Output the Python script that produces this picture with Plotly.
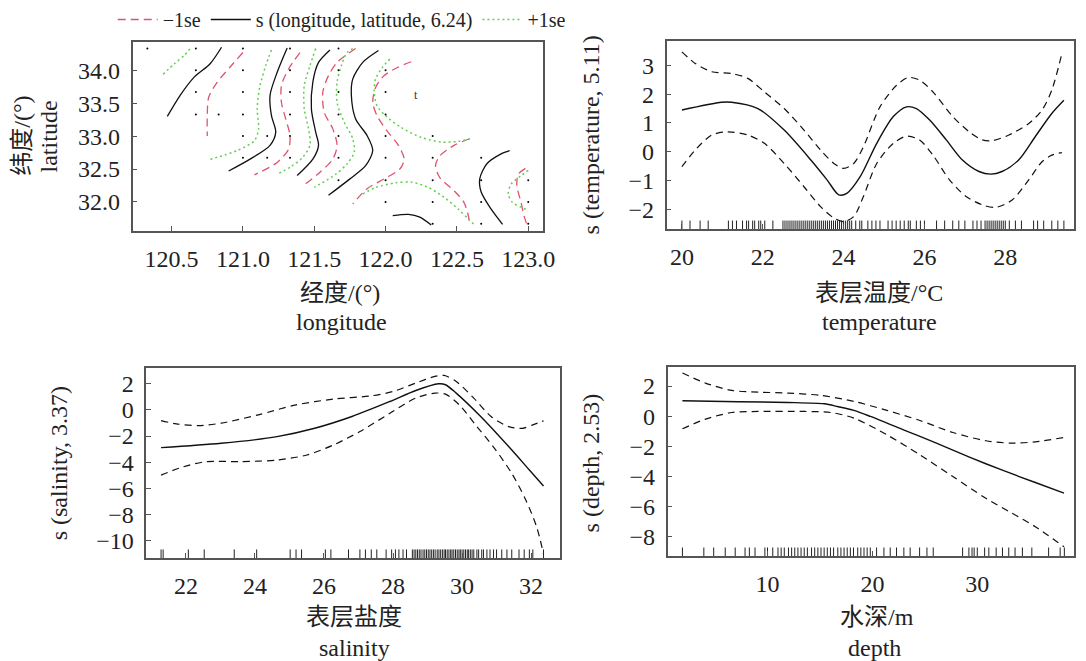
import plotly.graph_objects as go

# ---------------- DATA ----------------
# Panel 1: contour lines of s(longitude, latitude) -- (lon, lat) vertices
fit_contours = [
    [(120.47, 33.30), (120.56, 33.62), (120.66, 33.90), (120.77, 34.10), (120.85, 34.35)],
    [(121.31, 34.34), (121.24, 33.97), (121.19, 33.62), (121.20, 33.31), (121.23, 33.06), (121.19, 32.86), (121.05, 32.65), (120.90, 32.47)],
    [(121.61, 34.31), (121.53, 34.12), (121.49, 33.82), (121.48, 33.41), (121.51, 33.06), (121.53, 32.86), (121.49, 32.65), (121.38, 32.40)],
    [(121.95, 34.30), (121.84, 34.12), (121.77, 33.87), (121.76, 33.62), (121.79, 33.26), (121.87, 33.01), (121.91, 32.78), (121.86, 32.55), (121.75, 32.35), (121.60, 32.10)],
    [(122.05, 31.79), (122.16, 31.81), (122.24, 31.77), (122.32, 31.65)],
    [(122.87, 32.78), (122.81, 32.73), (122.71, 32.58), (122.66, 32.35), (122.67, 32.15), (122.74, 31.89), (122.82, 31.66)],
]
lower_contours = [
    [(121.00, 34.27), (120.91, 34.05), (120.82, 33.82), (120.76, 33.59), (120.75, 33.31), (120.75, 33.00)],
    [(121.40, 34.27), (121.32, 34.02), (121.27, 33.77), (121.27, 33.51), (121.30, 33.26), (121.33, 33.01), (121.32, 32.80), (121.24, 32.60), (121.08, 32.41)],
    [(121.79, 34.33), (121.66, 34.12), (121.60, 33.92), (121.56, 33.67), (121.57, 33.36), (121.63, 33.11), (121.66, 32.86), (121.63, 32.65), (121.54, 32.45), (121.43, 32.26)],
    [(122.18, 34.13), (122.09, 34.05), (121.99, 33.92), (121.93, 33.74), (121.91, 33.51), (121.94, 33.31), (122.01, 33.08), (122.09, 32.86), (122.13, 32.65), (122.10, 32.50), (121.99, 32.35), (121.87, 32.20), (121.77, 31.97)],
    [(122.59, 32.96), (122.48, 32.86), (122.38, 32.70), (122.35, 32.55), (122.38, 32.37), (122.48, 32.17), (122.55, 31.99), (122.58, 31.79), (122.59, 31.65)],
    [(122.98, 32.51), (122.93, 32.42), (122.92, 32.25), (122.95, 31.99), (122.97, 31.79), (122.99, 31.66)],
]
upper_contours = [
    [(120.44, 33.94), (120.52, 34.10), (120.59, 34.23), (120.63, 34.33)],
    [(121.20, 34.31), (121.16, 34.07), (121.12, 33.77), (121.10, 33.41), (121.11, 33.11), (121.08, 32.93), (120.96, 32.78), (120.76, 32.64)],
    [(121.51, 34.33), (121.47, 34.07), (121.43, 33.77), (121.43, 33.41), (121.46, 33.11), (121.47, 32.86), (121.42, 32.68), (121.34, 32.54), (121.24, 32.42)],
    [(121.77, 34.33), (121.73, 34.27), (121.69, 34.07), (121.66, 33.82), (121.66, 33.51), (121.71, 33.21), (121.77, 32.96), (121.78, 32.75), (121.73, 32.58), (121.65, 32.42), (121.50, 32.22)],
    [(122.03, 34.17), (121.98, 34.05), (121.93, 33.87), (121.92, 33.67), (121.94, 33.46), (122.01, 33.29), (122.11, 33.13), (122.25, 32.98), (122.39, 32.91), (122.51, 32.92), (122.59, 32.96)],
    [(121.84, 32.12), (121.93, 32.22), (122.07, 32.29), (122.18, 32.30), (122.30, 32.22), (122.41, 32.07), (122.51, 31.89), (122.58, 31.74), (122.62, 31.66)],
    [(123.00, 32.48), (122.95, 32.40), (122.88, 32.27), (122.86, 32.12), (122.89, 31.99), (122.95, 31.92), (123.00, 31.87)],
]
stations = [
    (120.33, 34.33), (120.67, 34.33), (121.0, 34.33), (121.33, 34.33), (121.67, 34.33),
    (120.67, 34.0), (121.0, 34.0), (121.33, 34.0), (121.67, 34.0), (122.0, 34.0),
    (120.67, 33.67), (121.0, 33.67), (121.33, 33.67), (121.67, 33.67), (122.0, 33.67),
    (120.67, 33.33), (120.83, 33.33), (121.0, 33.33), (121.33, 33.33), (121.67, 33.33), (122.0, 33.33),
    (121.0, 33.0), (121.17, 33.0), (121.33, 33.0), (121.67, 33.0), (122.0, 33.0), (122.33, 33.0),
    (121.0, 32.67), (121.17, 32.67), (121.33, 32.67), (121.67, 32.67), (122.0, 32.67), (122.33, 32.67), (122.67, 32.67),
    (121.67, 32.33), (122.0, 32.33), (122.33, 32.33), (122.67, 32.33), (123.0, 32.33),
    (122.0, 32.0), (122.33, 32.0), (122.67, 32.0), (123.0, 32.0),
    (122.33, 31.67), (122.67, 31.67), (123.0, 31.67),
]
lon_ticks = [120.5, 121.0, 121.5, 122.0, 122.5, 123.0]
lat_ticks = [32.0, 32.5, 33.0, 33.5, 34.0]

# Panel 2: temperature
temp_fit_x = [20.0, 20.98, 21.23, 21.88, 22.53, 23.19, 23.59, 23.88, 24.08, 24.41, 24.82, 25.23, 25.56, 25.80, 26.13, 26.54, 26.94, 27.35, 27.64, 27.92, 28.33, 28.74, 29.15, 29.45]
temp_fit_y = [1.45, 1.72, 1.72, 1.50, 0.75, -0.29, -0.98, -1.50, -1.45, -0.87, 0.29, 1.22, 1.56, 1.50, 1.10, 0.41, -0.29, -0.69, -0.78, -0.69, -0.29, 0.52, 1.33, 1.79]
temp_up_x = [20.0, 20.33, 20.74, 21.23, 21.63, 22.04, 22.53, 23.02, 23.43, 23.76, 24.0, 24.25, 24.49, 24.90, 25.31, 25.60, 25.88, 26.21, 26.70, 27.11, 27.43, 27.68, 28.09, 28.58, 28.91, 29.15, 29.40]
temp_up_y = [3.47, 3.07, 2.78, 2.72, 2.55, 2.08, 1.50, 0.75, 0.06, -0.41, -0.58, -0.41, 0.17, 1.56, 2.31, 2.58, 2.49, 2.08, 1.22, 0.69, 0.41, 0.38, 0.58, 0.98, 1.45, 2.14, 3.41]
temp_lo_x = [20.0, 20.33, 20.74, 21.14, 21.63, 22.04, 22.53, 23.02, 23.43, 23.76, 24.0, 24.25, 24.49, 24.82, 25.23, 25.56, 25.88, 26.21, 26.62, 27.03, 27.43, 27.76, 28.17, 28.58, 28.91, 29.15, 29.40]
temp_lo_y = [-0.52, 0.06, 0.58, 0.69, 0.58, 0.29, -0.41, -1.22, -1.91, -2.31, -2.43, -2.26, -1.56, -0.41, 0.29, 0.54, 0.41, -0.12, -0.98, -1.56, -1.85, -1.94, -1.68, -0.98, -0.35, -0.12, -0.03]
temp_rug = [20.0, 20.2, 20.45, 20.65, 21.15, 21.25, 21.35, 21.5, 21.6, 21.65, 21.75, 21.8, 21.9, 21.95, 22.05,
            22.25, 22.5, 22.55, 22.6, 22.65, 22.7, 22.75, 22.8, 22.85, 22.9, 22.95, 23.0, 23.05, 23.1, 23.15,
            23.2, 23.25, 23.3, 23.35, 23.4, 23.45, 23.5, 23.55, 23.6, 23.65, 23.7, 23.75, 23.8, 23.85, 23.9,
            23.95, 24.0, 24.05, 24.1, 24.15, 24.2, 24.3, 24.4, 24.45, 24.6, 24.7, 24.8, 24.9, 25.1, 25.2, 25.3,
            25.4, 25.5, 25.6, 25.65, 25.8, 25.9, 26.0, 26.3, 26.5, 26.7, 26.85, 27.0, 27.2, 27.3, 27.4, 27.5,
            27.55, 27.6, 27.65, 27.7, 27.75, 27.8, 27.85, 27.9, 27.95, 28.0, 28.1, 28.25, 28.4, 28.7, 28.8,
            28.95, 29.15, 29.3, 29.45]

# Panel 3: salinity
sal_fit_x = [21.28, 23.02, 24.64, 25.73, 26.81, 27.91, 28.66, 29.32, 29.52, 29.83, 30.54, 31.35, 31.95, 32.36]
sal_fit_y = [-2.89, -2.56, -2.05, -1.41, -0.51, 0.64, 1.48, 1.99, 1.92, 1.28, -0.51, -2.81, -4.60, -5.83]
sal_up_x = [21.28, 21.72, 22.36, 23.02, 24.10, 25.19, 26.27, 27.37, 28.01, 28.66, 29.21, 29.48, 29.83, 30.34, 30.84, 31.35, 31.75, 32.05, 32.36]
sal_up_y = [-0.82, -1.07, -1.20, -1.02, -0.38, 0.38, 0.82, 1.07, 1.41, 2.05, 2.56, 2.63, 2.17, 0.90, -0.51, -1.28, -1.41, -1.15, -0.84]
sal_lo_x = [21.28, 21.93, 22.59, 23.56, 24.64, 25.51, 26.27, 27.04, 27.91, 28.66, 29.21, 29.52, 29.92, 30.43, 30.94, 31.44, 31.85, 32.16, 32.36]
sal_lo_y = [-4.99, -4.35, -3.96, -3.96, -3.84, -3.45, -2.69, -1.66, -0.26, 0.90, 1.28, 1.20, 0.38, -1.28, -2.94, -4.86, -6.91, -8.95, -11.0]
sal_rug = [21.28, 21.34, 22.07, 22.53, 23.40, 24.05, 25.02, 25.19, 25.35, 26.04, 26.20, 26.71, 27.04, 27.20,
           27.37, 27.53, 27.80, 27.96, 28.07, 28.17, 28.29, 28.39, 28.56, 28.61, 28.66, 28.71, 28.76, 28.81,
           28.87, 28.92, 28.97, 29.02, 29.07, 29.12, 29.17, 29.22, 29.28, 29.33, 29.38, 29.43, 29.48, 29.52,
           29.57, 29.62, 29.67, 29.71, 29.76, 29.81, 29.86, 29.91, 29.95, 30.00, 30.05, 30.10, 30.15, 30.19,
           30.24, 30.29, 30.34, 30.43, 30.48, 30.57, 30.62, 30.72, 30.81, 30.91, 31.00, 31.15, 31.30, 31.44,
           31.65, 31.80, 31.95, 32.05, 32.36]

# Panel 4: depth
dep_fit_x = [1.89, 7.23, 11.95, 15.41, 16.67, 18.24, 19.81, 22.96, 26.10, 29.25, 32.39, 35.53, 38.27]
dep_fit_y = [1.02, 0.96, 0.91, 0.82, 0.64, 0.38, -0.02, -0.91, -1.80, -2.73, -3.60, -4.42, -5.13]
dep_up_x = [1.89, 4.09, 6.60, 9.12, 11.95, 15.09, 18.24, 21.38, 24.53, 27.67, 30.82, 33.33, 35.53, 38.27]
dep_up_y = [2.87, 2.20, 1.71, 1.60, 1.53, 1.38, 0.98, 0.38, -0.29, -1.09, -1.64, -1.80, -1.71, -1.42]
dep_lo_x = [1.89, 4.09, 6.60, 9.12, 13.52, 16.04, 18.24, 21.38, 24.53, 27.67, 30.82, 33.33, 35.53, 38.27]
dep_lo_y = [-0.84, -0.20, 0.24, 0.31, 0.31, 0.24, -0.13, -1.24, -2.58, -4.02, -5.47, -6.47, -7.36, -8.69]
dep_rug = [1.89, 3.93, 4.87, 5.97, 6.92, 7.86, 8.27, 8.81, 9.75, 10.0, 10.5, 11.0, 11.3, 11.6, 12.0, 12.3,
           12.6, 12.9, 13.2, 13.5, 13.8, 14.2, 14.5, 14.8, 15.1, 15.4, 15.7, 16.0, 16.3, 16.7, 17.0, 17.3,
           17.6, 17.9, 18.2, 18.6, 18.9, 19.2, 19.5, 19.8, 20.4, 21.1, 21.7, 22.3, 23.0, 23.6, 24.5, 25.2,
           25.8, 28.6, 29.2, 29.5, 29.7, 30.0, 30.7, 31.1, 31.8, 32.4, 33.0, 33.6, 34.3, 35.2, 36.8, 37.9, 38.3]

# ---------------- STYLE ----------------
W, H = 1086, 661
FONT = "Liberation Serif, Noto Sans CJK SC, serif"
RED, GREEN, BLACK = "#DF536B", "#61D04F", "#111111"
TXT = "#222222"
DASH_SE = "7px,5px"

ranges = {
    "x": [120.226, 123.103], "y": [31.558, 34.43],
    "x2": [19.62, 29.70], "y2": [-2.69, 3.85],
    "x3": [20.854, 32.83], "y3": [-11.33, 3.20],
    "x4": [0.47, 39.22], "y4": [-9.31, 3.27],
}
domains = {  # pixel boxes (left, right, top, bottom)
    "1": (134, 549, 42, 231),
    "2": (674, 1086, 41, 229),
    "3": (148, 566, 368, 558),
    "4": (675, 1086, 367, 556),
}

fig = go.Figure()


def add_line(x, y, color, dash, width, xa, ya, name=None, show=False):
    fig.add_trace(go.Scatter(
        x=x, y=y, mode="lines", name=name, showlegend=show,
        line=dict(color=color, dash=dash, width=width, shape="spline", smoothing=0.8),
        xaxis=xa, yaxis=ya, hoverinfo="skip"))


def add_rug(vals, xa, ya, yr, frac=0.045):
    xs, ys = [], []
    y0, y1 = yr[0], yr[0] + frac * (yr[1] - yr[0])
    for v in vals:
        xs += [v, v, None]
        ys += [y0, y1, None]
    fig.add_trace(go.Scatter(x=xs, y=ys, mode="lines", showlegend=False,
                             line=dict(color="#222", width=1), xaxis=xa, yaxis=ya, hoverinfo="skip"))


# Panel 1
for i, c in enumerate(lower_contours):
    add_line([p[0] for p in c], [p[1] for p in c], RED, "8px,5px", 1.3, "x", "y",
             name="\u22121se", show=(i == 0))
for i, c in enumerate(fit_contours):
    add_line([p[0] for p in c], [p[1] for p in c], BLACK, "solid", 1.3, "x", "y",
             name="s (longitude, latitude, 6.24)", show=(i == 0))
for i, c in enumerate(upper_contours):
    add_line([p[0] for p in c], [p[1] for p in c], GREEN, "2px,3px", 1.5, "x", "y",
             name="+1se", show=(i == 0))
fig.add_trace(go.Scatter(x=[s[0] for s in stations], y=[s[1] for s in stations], mode="markers",
                         marker=dict(color="black", size=2), showlegend=False, xaxis="x", yaxis="y",
                         hoverinfo="skip"))

# Panel 2
add_line(temp_fit_x, temp_fit_y, BLACK, "solid", 1.4, "x2", "y2")
add_line(temp_up_x, temp_up_y, BLACK, DASH_SE, 1.2, "x2", "y2")
add_line(temp_lo_x, temp_lo_y, BLACK, DASH_SE, 1.2, "x2", "y2")
add_rug(temp_rug, "x2", "y2", ranges["y2"])

# Panel 3
add_line(sal_fit_x, sal_fit_y, BLACK, "solid", 1.4, "x3", "y3")
add_line(sal_up_x, sal_up_y, BLACK, DASH_SE, 1.2, "x3", "y3")
add_line(sal_lo_x, sal_lo_y, BLACK, DASH_SE, 1.2, "x3", "y3")
add_rug(sal_rug, "x3", "y3", ranges["y3"])

# Panel 4
add_line(dep_fit_x, dep_fit_y, BLACK, "solid", 1.4, "x4", "y4")
add_line(dep_up_x, dep_up_y, BLACK, DASH_SE, 1.2, "x4", "y4")
add_line(dep_lo_x, dep_lo_y, BLACK, DASH_SE, 1.2, "x4", "y4")
add_rug(dep_rug, "x4", "y4", ranges["y4"])

axis_common = dict(showline=True, mirror=True, linecolor="#555", linewidth=1.5, ticks="inside",
                   ticklen=5, tickcolor="#555", showgrid=False, zeroline=False,
                   tickfont=dict(family=FONT, size=24, color=TXT))

layout_axes = {}
tickspecs = {
    "x": dict(tickvals=lon_ticks, tickformat=".1f"),
    "y": dict(tickvals=lat_ticks, tickformat=".1f"),
    "x2": dict(tickvals=[20, 22, 24, 26, 28]),
    "y2": dict(tickvals=[-2, -1, 0, 1, 2, 3]),
    "x3": dict(tickvals=[22, 24, 26, 28, 30, 32]),
    "y3": dict(tickvals=[-10, -8, -6, -4, -2, 0, 2]),
    "x4": dict(tickvals=[10, 20, 30]),
    "y4": dict(tickvals=[-8, -6, -4, -2, 0, 2]),
}
for k in ["1", "2", "3", "4"]:
    l, r, t, b = domains[k]
    sx = "x" if k == "1" else "x" + k
    sy = "y" if k == "1" else "y" + k
    xname = "xaxis" if k == "1" else "xaxis" + k
    yname = "yaxis" if k == "1" else "yaxis" + k
    layout_axes[xname] = dict(axis_common, domain=[l / W, r / W], range=ranges[sx], anchor=sy,
                              ticklabelstandoff=5, **tickspecs[sx])
    layout_axes[yname] = dict(axis_common, domain=[1 - b / H, 1 - t / H], range=ranges[sy], anchor=sx,
                              ticklabelstandoff=6, **tickspecs[sy])

fig.update_layout(**layout_axes)


def ann(text, px, py, angle=0, size=24):
    fig.add_annotation(text=text, x=px / W, y=1 - py / H, xref="paper", yref="paper",
                       showarrow=False, textangle=angle, xanchor="center", yanchor="middle",
                       font=dict(family=FONT, size=size, color=TXT))


ann("纬度/(°)", 22, 136, -90)
ann("latitude", 50, 136, -90)
ann("经度/(°)", 344, 293)
ann("longitude", 345, 322)
ann("s (temperature, 5.11)", 598, 135, -90)
ann("表层温度/°C", 889, 293)
ann("temperature", 889, 322)
ann("s (salinity, 3.37)", 60, 463, -90)
ann("表层盐度", 358, 617)
ann("salinity", 358, 648)
ann("s (depth, 2.53)", 598, 463, -90)
ann("水深/m", 887, 617)
ann("depth", 884, 648)
fig.add_annotation(text="t", x=122.21, y=33.62, xref="x", yref="y", showarrow=False,
                   font=dict(family=FONT, size=12, color="#333"))

fig.update_layout(
    width=W, height=H, margin=dict(l=0, r=0, t=0, b=0),
    paper_bgcolor="white", plot_bgcolor="white",
    legend=dict(orientation="h", x=114 / W, y=1.0, xanchor="left", yanchor="top",
                font=dict(family=FONT, size=20, color=TXT), bgcolor="rgba(0,0,0,0)",
                traceorder="normal", itemwidth=40),
)

fig.write_html("out.html", config={"displayModeBar": False},
               post_script="document.body.style.margin='0px';document.body.style.overflow='hidden';")
